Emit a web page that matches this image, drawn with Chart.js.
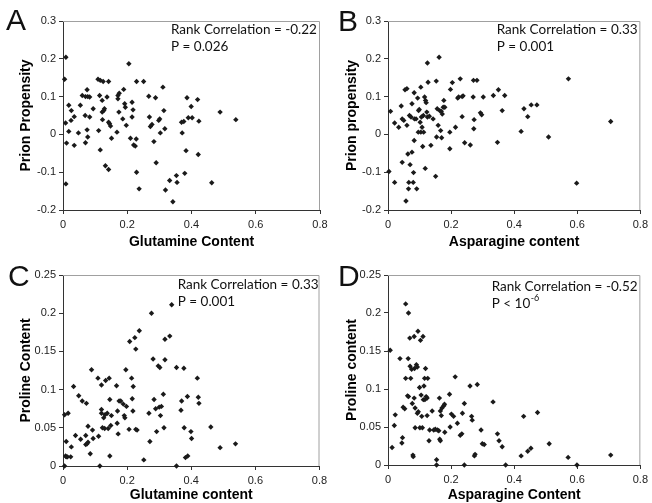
<!DOCTYPE html>
<html>
<head>
<meta charset="utf-8">
<script src="https://cdn.jsdelivr.net/npm/chart.js@4"></script>
<style>
body { margin:0; background:#fff; }
#wrap { position:relative; width:652px; height:503px; overflow:hidden; background:#fff; }
canvas { position:absolute; }
</style>
</head>
<body>
<div id="wrap">
  <canvas id="chartA" width="340" height="262" style="left:0px;top:0px;"></canvas>
  <canvas id="chartB" width="326" height="262" style="left:326px;top:0px;"></canvas>
  <canvas id="chartC" width="340" height="263" style="left:0px;top:250px;"></canvas>
  <canvas id="chartD" width="326" height="263" style="left:326px;top:250px;"></canvas>
</div>
<script>
// tick labels
const contentTicks = [0, 0.2, 0.4, 0.6, 0.8];
const propensityTicks = [-0.2, -0.1, 0, 0.1, 0.2, 0.3];
const prolineTicks = [0, 0.05, 0.1, 0.15, 0.2, 0.25];

// A: glutamine content vs prion propensity
const glnA_x = [0.009,0.005,0.009,0.008,0.018,0.018,0.011,0.026,0.025,0.035,0.035,0.048,0.054,0.060,0.070,0.069,0.070,0.075,0.077,0.075,0.077,0.083,0.083,0.094,0.111,0.109,0.116,0.114,0.116,0.122,0.122,0.125,0.123,0.127,0.129,0.132,0.137,0.142,0.142,0.142,0.145,0.151,0.148,0.171,0.171,0.168,0.175,0.174,0.186,0.189,0.194,0.192,0.197,0.205,0.210,0.215,0.215,0.218,0.220,0.225,0.229,0.228,0.229,0.237,0.251,0.269,0.267,0.272,0.277,0.283,0.288,0.290,0.301,0.298,0.303,0.311,0.314,0.317,0.319,0.332,0.342,0.353,0.355,0.369,0.371,0.376,0.379,0.383,0.386,0.390,0.399,0.402,0.419,0.421,0.423,0.463,0.489,0.538];
const propA_y = [0.204,0.146,-0.131,0.030,0.077,0.008,-0.023,0.063,0.037,0.047,-0.029,0.004,0.077,0.103,0.100,0.050,-0.022,0.118,0.100,0.012,-0.007,0.099,0.046,0.068,0.010,0.146,0.143,0.103,-0.041,0.059,0.090,0.140,0.039,0.063,0.068,-0.083,0.099,0.140,0.032,-0.093,0.028,-0.010,0.022,0.094,0.103,0.006,0.109,0.059,0.041,0.119,0.072,0.081,0.024,0.187,-0.010,0.046,0.085,0.065,-0.028,-0.031,0.140,-0.012,-0.100,-0.144,0.140,0.046,0.101,0.021,0.026,-0.019,0.097,-0.075,0.041,0.037,0.004,0.125,0.063,0.015,-0.147,-0.122,-0.178,-0.109,-0.127,0.032,0.004,0.034,-0.103,-0.043,0.097,0.044,0.074,0.044,0.092,-0.053,0.035,-0.128,0.059,0.039];

// B: asparagine content vs prion propensity
const asnB_x = [0.008,0.003,0.021,0.021,0.034,0.042,0.045,0.045,0.050,0.054,0.057,0.060,0.060,0.063,0.065,0.066,0.068,0.070,0.073,0.076,0.076,0.080,0.081,0.083,0.083,0.084,0.089,0.091,0.094,0.096,0.097,0.099,0.102,0.104,0.104,0.106,0.108,0.110,0.112,0.113,0.116,0.118,0.119,0.121,0.123,0.125,0.125,0.127,0.131,0.136,0.143,0.151,0.153,0.154,0.156,0.159,0.162,0.164,0.167,0.169,0.170,0.172,0.175,0.177,0.180,0.196,0.196,0.198,0.204,0.214,0.221,0.224,0.229,0.235,0.235,0.238,0.243,0.261,0.270,0.271,0.272,0.273,0.282,0.293,0.297,0.302,0.334,0.347,0.350,0.362,0.370,0.422,0.431,0.443,0.454,0.472,0.509,0.572,0.598,0.706];
const propB_y = [0.061,-0.098,0.030,-0.127,0.019,0.075,0.041,-0.074,0.037,0.118,-0.176,0.121,0.024,-0.052,-0.144,-0.127,0.050,-0.080,0.046,0.081,-0.047,-0.127,-0.101,0.110,-0.016,0.041,0.041,-0.144,0.096,0.006,0.063,0.066,0.032,0.125,0.006,0.046,0.019,-0.032,0.050,0.006,0.099,-0.090,0.090,0.084,0.059,0.046,0.189,0.138,0.048,-0.029,0.041,-0.111,0.141,-0.007,0.068,0.024,0.204,0.063,0.010,0.061,-0.009,0.054,0.072,0.090,0.072,-0.038,0.006,0.119,0.137,0.019,0.096,0.099,0.147,0.100,0.047,0.102,-0.022,-0.028,0.099,0.143,0.015,0.039,0.143,0.057,0.052,0.099,0.103,-0.021,0.118,0.063,0.103,0.008,0.068,0.047,0.078,0.078,-0.007,0.147,-0.129,0.034];

// C: glutamine content vs proline content
const glnC_x = [0.005,0.008,0.010,0.014,0.005,0.016,0.010,0.024,0.026,0.033,0.039,0.049,0.055,0.060,0.071,0.073,0.071,0.075,0.078,0.078,0.085,0.089,0.092,0.094,0.109,0.111,0.115,0.120,0.120,0.120,0.123,0.127,0.131,0.130,0.133,0.138,0.141,0.144,0.146,0.146,0.149,0.151,0.167,0.169,0.170,0.172,0.175,0.180,0.188,0.191,0.193,0.196,0.198,0.206,0.208,0.214,0.216,0.218,0.219,0.224,0.227,0.227,0.231,0.238,0.252,0.268,0.271,0.276,0.281,0.284,0.289,0.292,0.297,0.300,0.302,0.304,0.307,0.313,0.315,0.318,0.318,0.333,0.339,0.354,0.354,0.368,0.370,0.377,0.378,0.382,0.388,0.389,0.399,0.401,0.419,0.422,0.424,0.461,0.490,0.538];
const proC_y = [0.000,0.013,0.012,0.012,0.067,0.069,0.032,0.012,0.025,0.104,0.040,0.092,0.035,0.085,0.028,0.082,0.040,0.029,0.031,0.052,0.016,0.126,0.047,0.036,0.115,0.039,0.000,0.106,0.074,0.069,0.050,0.063,0.067,0.049,0.112,0.069,0.049,0.115,0.013,0.087,0.053,0.066,0.105,0.056,0.072,0.042,0.085,0.085,0.081,0.066,0.063,0.126,0.078,0.048,0.163,0.115,0.088,0.072,0.104,0.168,0.153,0.048,0.047,0.177,0.008,0.069,0.032,0.200,0.140,0.087,0.075,0.045,0.131,0.077,0.129,0.066,0.078,0.094,0.050,0.166,0.139,0.170,0.211,0.129,0.000,0.073,0.085,0.128,0.050,0.011,0.091,0.013,0.045,0.036,0.115,0.090,0.082,0.051,0.024,0.029];

// D: asparagine content vs proline content
const asnD_x = [0.007,0.013,0.020,0.023,0.038,0.044,0.046,0.048,0.053,0.056,0.056,0.062,0.064,0.065,0.065,0.069,0.070,0.072,0.075,0.077,0.079,0.080,0.083,0.083,0.084,0.086,0.086,0.090,0.093,0.093,0.095,0.096,0.100,0.101,0.103,0.105,0.107,0.109,0.111,0.112,0.114,0.116,0.117,0.119,0.121,0.124,0.124,0.126,0.130,0.132,0.140,0.145,0.150,0.154,0.154,0.157,0.161,0.163,0.164,0.166,0.166,0.169,0.171,0.177,0.179,0.180,0.195,0.197,0.201,0.208,0.213,0.220,0.229,0.234,0.236,0.242,0.242,0.260,0.265,0.267,0.274,0.276,0.283,0.295,0.299,0.305,0.333,0.347,0.352,0.362,0.373,0.422,0.430,0.443,0.453,0.474,0.511,0.571,0.599,0.706];
const proD_y = [0.151,0.023,0.052,0.066,0.140,0.029,0.036,0.076,0.074,0.212,0.114,0.091,0.140,0.200,0.090,0.167,0.130,0.114,0.126,0.081,0.013,0.011,0.169,0.088,0.127,0.075,0.049,0.132,0.129,0.068,0.176,0.070,0.102,0.049,0.164,0.092,0.064,0.049,0.169,0.086,0.104,0.114,0.086,0.127,0.090,0.088,0.065,0.114,0.032,0.046,0.071,0.046,0.047,0.007,0.000,0.046,0.045,0.088,0.034,0.032,0.071,0.065,0.075,0.078,0.080,0.043,0.093,0.050,0.067,0.064,0.116,0.055,0.039,0.041,0.068,0.081,0.000,0.104,0.064,0.059,0.012,0.014,0.106,0.046,0.028,0.027,0.083,0.041,0.032,0.024,0.000,0.012,0.064,0.018,0.022,0.069,0.028,0.010,0.000,0.013];

const tickFont = { family: "'Liberation Sans', Arial, sans-serif", size: 11 };
const titleFont = { family: "'Liberation Sans', Arial, sans-serif", size: 14, weight: 'bold' };
const noteFont = "13.5px Lato, 'Liberation Sans', sans-serif";
const letterFont = "30px 'Liberation Sans', Arial, sans-serif";

// draws the grey frame, panel letter and the correlation notes
const panelText = {
  id: 'panelText',
  beforeDatasetsDraw(chart) {
    const a = chart.chartArea;
    const ctx = chart.ctx;
    ctx.save();
    ctx.strokeStyle = '#a0a0a0';
    ctx.lineWidth = 1;
    ctx.beginPath();
    ctx.moveTo(a.left, a.top + 0.5);
    ctx.lineTo(a.right - 0.5, a.top + 0.5);
    ctx.lineTo(a.right - 0.5, a.bottom);
    ctx.stroke();
    ctx.restore();
  },
  afterDraw(chart, args, opts) {
    const ctx = chart.ctx;
    ctx.save();
    ctx.fillStyle = '#111';
    ctx.textBaseline = 'middle';
    ctx.textAlign = 'left';
    ctx.font = letterFont;
    ctx.fillText(opts.letter, opts.letterX, opts.letterY);
    for (let i = 0; i < opts.lines.length; i++) {
      let ln = opts.lines[i];
      let y = opts.noteY + i * 17;
      ctx.font = noteFont;
      ctx.fillText(ln.text, opts.noteX, y);
      if (ln.sup) {
        let w = ctx.measureText(ln.text).width;
        ctx.font = "9px Lato, 'Liberation Sans', sans-serif";
        ctx.fillText(ln.sup, opts.noteX + w + 0.5, y - 6);
      }
    }
    ctx.restore();
  }
};

function makePanel(id, xs, ys, cfg) {
  let pts = [];
  for (let i = 0; i < xs.length; i++) {
    pts.push({ x: xs[i], y: ys[i] });
  }
  return new Chart(document.getElementById(id), {
    type: 'scatter',
    data: {
      datasets: [{
        data: pts,
        pointStyle: 'rectRot',
        pointRadius: 2.7,
        pointHoverRadius: 2.7,
        backgroundColor: '#1a1a1a',
        borderWidth: 0,
        clip: false
      }]
    },
    options: {
      responsive: false,
      animation: false,
      events: [],
      layout: { padding: { left: 0, top: cfg.top, right: cfg.right, bottom: 0 } },
      plugins: {
        legend: { display: false },
        tooltip: { enabled: false },
        panelText: cfg.text
      },
      scales: {
        x: {
          type: 'linear', min: 0, max: 0.8,
          afterBuildTicks: s => { s.ticks = contentTicks.map(v => ({ value: v })); },
          afterFit: s => { s.height = cfg.xAxisH; },
          grid: { drawOnChartArea: false, tickLength: 4, color: '#333' },
          border: { color: '#333' },
          ticks: { font: tickFont, color: '#222', padding: 4, maxRotation: 0, autoSkip: false, callback: v => String(v) },
          title: { display: true, text: cfg.xTitle, font: titleFont, color: '#000', padding: { top: 0, bottom: cfg.xTitlePad } }
        },
        y: {
          type: 'linear', min: cfg.yTicks[0], max: cfg.yTicks[cfg.yTicks.length - 1],
          afterBuildTicks: s => { s.ticks = cfg.yTicks.map(v => ({ value: v })); },
          afterFit: s => { s.width = cfg.yAxisW; },
          grid: { drawOnChartArea: false, tickLength: 4, color: '#333' },
          border: { color: '#333' },
          ticks: { font: tickFont, color: '#222', padding: 3, autoSkip: false, callback: v => String(v) },
          title: { display: true, text: cfg.yTitle, font: titleFont, color: '#000', padding: { top: 18, bottom: 0 } }
        }
      }
    },
    plugins: [panelText]
  });
}

makePanel('chartA', glnA_x, propA_y, {
  top: 21, right: 20, xAxisH: 52, yAxisW: 63, xTitlePad: 11.6,
  yTicks: propensityTicks, xTitle: 'Glutamine Content', yTitle: 'Prion Propensity',
  text: { letter: 'A', letterX: 6, letterY: 22, noteX: 171, noteY: 30,
    lines: [{ text: 'Rank Correlation = -0.22' }, { text: 'P = 0.026' }] }
});

makePanel('chartB', asnB_x, propB_y, {
  top: 21, right: 9, xAxisH: 52, yAxisW: 62, xTitlePad: 11.6,
  yTicks: propensityTicks, xTitle: 'Asparagine content', yTitle: 'Prion propensity',
  text: { letter: 'B', letterX: 12, letterY: 23, noteX: 170.7, noteY: 30,
    lines: [{ text: 'Rank Correlation = 0.33' }, { text: 'P = 0.001' }] }
});

makePanel('chartC', glnC_x, proC_y, {
  top: 25, right: 20.5, xAxisH: 47, yAxisW: 63, xTitlePad: 9.6,
  yTicks: prolineTicks, xTitle: 'Glutamine content', yTitle: 'Proline Content',
  text: { letter: 'C', letterX: 8, letterY: 28, noteX: 177.7, noteY: 35,
    lines: [{ text: 'Rank Correlation = 0.33' }, { text: 'P = 0.001' }] }
});

makePanel('chartD', asnD_x, proD_y, {
  top: 25, right: 9, xAxisH: 48, yAxisW: 62, xTitlePad: 9.6,
  yTicks: prolineTicks, xTitle: 'Asparagine Content', yTitle: 'Proline content',
  text: { letter: 'D', letterX: 12, letterY: 28, noteX: 165.7, noteY: 36.7,
    lines: [{ text: 'Rank Correlation = -0.52' }, { text: 'P < 10', sup: '-6' }] }
});
</script>
</body>
</html>
